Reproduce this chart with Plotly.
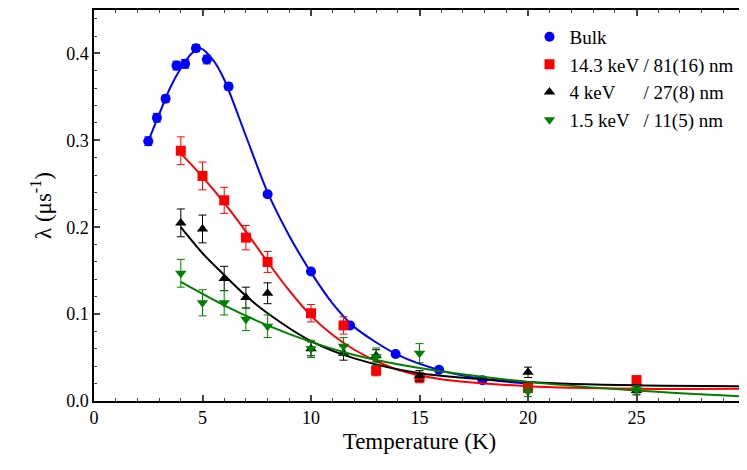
import plotly.graph_objects as go

# --- data ---
bulk_T = [2.5, 2.9, 3.3, 3.8, 4.2, 4.7, 5.2, 6.2, 8.0, 10.0, 11.8, 13.9, 15.9, 17.9]
bulk_l = [0.299, 0.326, 0.348, 0.386, 0.388, 0.406, 0.393, 0.362, 0.238, 0.149, 0.087, 0.054, 0.036, 0.024]
bulk_e = [0.005, 0.005, 0.004, 0.005, 0.005, 0.004, 0.005, 0.004, 0.003, 0.002, 0.002, 0.002, 0.002, 0.002]

T12 = [4, 5, 6, 7, 8, 10, 11.5, 13, 15, 20, 25, 30]
red_l = [0.288, 0.259, 0.231, 0.188, 0.160, 0.101, 0.087, 0.035, 0.027, 0.015, 0.024, 0.013]
red_e = [0.016, 0.016, 0.015, 0.014, 0.012, 0.010, 0.010, 0.006, 0.006, 0.005, 0.005, 0.004]
blk_l = [0.205, 0.198, 0.141, 0.119, 0.124, 0.060, 0.055, 0.052, 0.029, 0.033, 0.012, 0.016]
blk_e = [0.016, 0.016, 0.014, 0.012, 0.012, 0.008, 0.008, 0.007, 0.006, 0.006, 0.005, 0.005]
grn_l = [0.147, 0.113, 0.113, 0.094, 0.086, 0.060, 0.063, 0.051, 0.055, 0.011, 0.013, 0.004]
grn_e = [0.016, 0.015, 0.014, 0.013, 0.013, 0.010, 0.010, 0.010, 0.011, 0.006, 0.005, 0.004]

# fit curves
fb_T = [2.5, 3.0, 3.5, 4.0, 4.5, 4.9, 5.5, 6.0, 7.0, 8.0, 9.0, 10.0, 11.0, 12.0, 14.0, 16.0, 18.0, 20.0]
fb_l = [0.299, 0.330, 0.360, 0.383, 0.400, 0.406, 0.392, 0.370, 0.305, 0.240, 0.190, 0.148, 0.112, 0.085, 0.053, 0.035, 0.025, 0.020]
fr_T = [4, 5, 6, 7, 8, 9, 10, 11, 12, 13, 14, 16, 20, 25, 30]
fr_l = [0.285, 0.258, 0.228, 0.195, 0.160, 0.127, 0.098, 0.076, 0.059, 0.046, 0.036, 0.025, 0.017, 0.014, 0.014]
fk_T = [4, 5, 6, 7, 8, 10, 12, 15, 20, 25, 30]
fk_l = [0.200, 0.170, 0.145, 0.121, 0.101, 0.069, 0.049, 0.032, 0.022, 0.018, 0.017]
fg_T = [4, 6, 8, 10, 12, 15, 20, 25, 30]
fg_l = [0.137, 0.110, 0.087, 0.068, 0.053, 0.038, 0.022, 0.012, 0.005]

series = [
    ("Bulk", bulk_T, bulk_l, bulk_e, fb_T, fb_l, "#0000ff", "circle"),
    ("14.3 keV / 81(16) nm", T12, red_l, red_e, fr_T, fr_l, "#ff0000", "square"),
    ("4 keV      / 27(8) nm", T12, blk_l, blk_e, fk_T, fk_l, "#000000", "triangle-up"),
    ("1.5 keV   / 11(5) nm", T12, grn_l, grn_e, fg_T, fg_l, "#008000", "triangle-down"),
]

fig = go.Figure()
for name, x, y, e, fx, fy, c, sym in series:
    fig.add_trace(go.Scatter(x=fx, y=fy, mode="lines",
                             line=dict(color=c, width=2, shape="spline", smoothing=0.8),
                             showlegend=False, hoverinfo="skip"))
    fig.add_trace(go.Scatter(x=x, y=y, mode="markers", name=name,
                             marker=dict(color=c, symbol=sym, size=10),
                             error_y=dict(array=e, color=c, thickness=1, width=4)))

axis = dict(showline=True, linecolor="black", linewidth=1.5, mirror="ticks", ticks="inside",
            ticklen=6, tickwidth=1.5, showgrid=False, zeroline=False,
            tickfont=dict(size=18), minor=dict(ticks="inside", ticklen=3, tickwidth=1))
fig.update_xaxes(axis, range=[0, 30], dtick=5,
                 title=dict(text="Temperature (K)", font=dict(size=23), standoff=6))
fig.update_yaxes(axis, range=[0, 0.45], dtick=0.1, tickformat=".1f",
                 title=dict(text="λ (μs<sup>-1</sup>)", font=dict(size=23), standoff=8))
fig.update_layout(width=739, height=461, template=None, plot_bgcolor="white", paper_bgcolor="white",
                  font=dict(family="Liberation Serif", color="black"),
                  margin=dict(l=86, r=2, t=2, b=68),
                  legend=dict(x=0.99, y=0.98, xanchor="right", yanchor="top", font=dict(size=19),
                              bgcolor="rgba(0,0,0,0)", tracegroupgap=0))
fig.write_html("out.html")
